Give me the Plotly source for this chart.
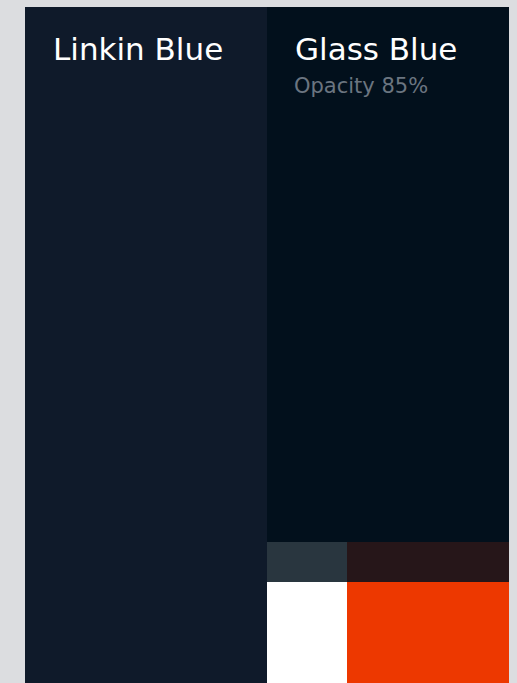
import plotly.graph_objects as go

# Palette swatches (pixel-unit grid of the card)
names = ["Linkin Blue", "Glass Blue", "Slate Tint", "Maroon Tint", "White", "Signal Orange"]
colors = ["#0f1a2a", "#02101c", "#29363f", "#261619", "#ffffff", "#ed3800"]
x0 = [25, 267, 267, 347, 267, 347]
x1 = [267, 509, 347, 509, 347, 509]
y0 = [7, 7, 542, 542, 582, 582]
y1 = [683, 542, 582, 582, 683, 683]

titles = ["Linkin Blue", "Glass Blue"]
subtitles = ["", "Opacity 85%"]

fig = go.Figure()
for n, c, a, b, t, btm in zip(names, colors, x0, x1, y0, y1):
    fig.add_trace(go.Bar(
        x=[(a + b) / 2], y=[btm - t], base=[t], width=[b - a],
        marker=dict(color=c, line=dict(width=0)), name=n,
        hoverinfo="name", showlegend=False))

for i, t in enumerate(titles):
    fig.add_annotation(x=x0[i] + 26, y=49, text=t, showarrow=False,
                       xanchor="left", yanchor="middle",
                       font=dict(family="DejaVu Sans, sans-serif", size=31, color="#ffffff"))
    if subtitles[i]:
        fig.add_annotation(x=x0[i] + 25, y=86, text=subtitles[i], showarrow=False,
                           xanchor="left", yanchor="middle",
                           font=dict(family="DejaVu Sans, sans-serif", size=21, color="#6b7580"))

fig.update_layout(
    width=517, height=683, margin=dict(l=0, r=0, t=0, b=0),
    paper_bgcolor="#dcdde0", plot_bgcolor="#dcdde0",
    bargap=0, barmode="overlay",
    xaxis=dict(range=[0, 517], visible=False, fixedrange=True),
    yaxis=dict(range=[683, 0], visible=False, fixedrange=True),
)
fig.write_html("out.html", config={"displayModeBar": False},
               post_script="document.body.style.margin='0';document.body.style.background='#dcdde0';document.body.style.overflow='hidden';")
